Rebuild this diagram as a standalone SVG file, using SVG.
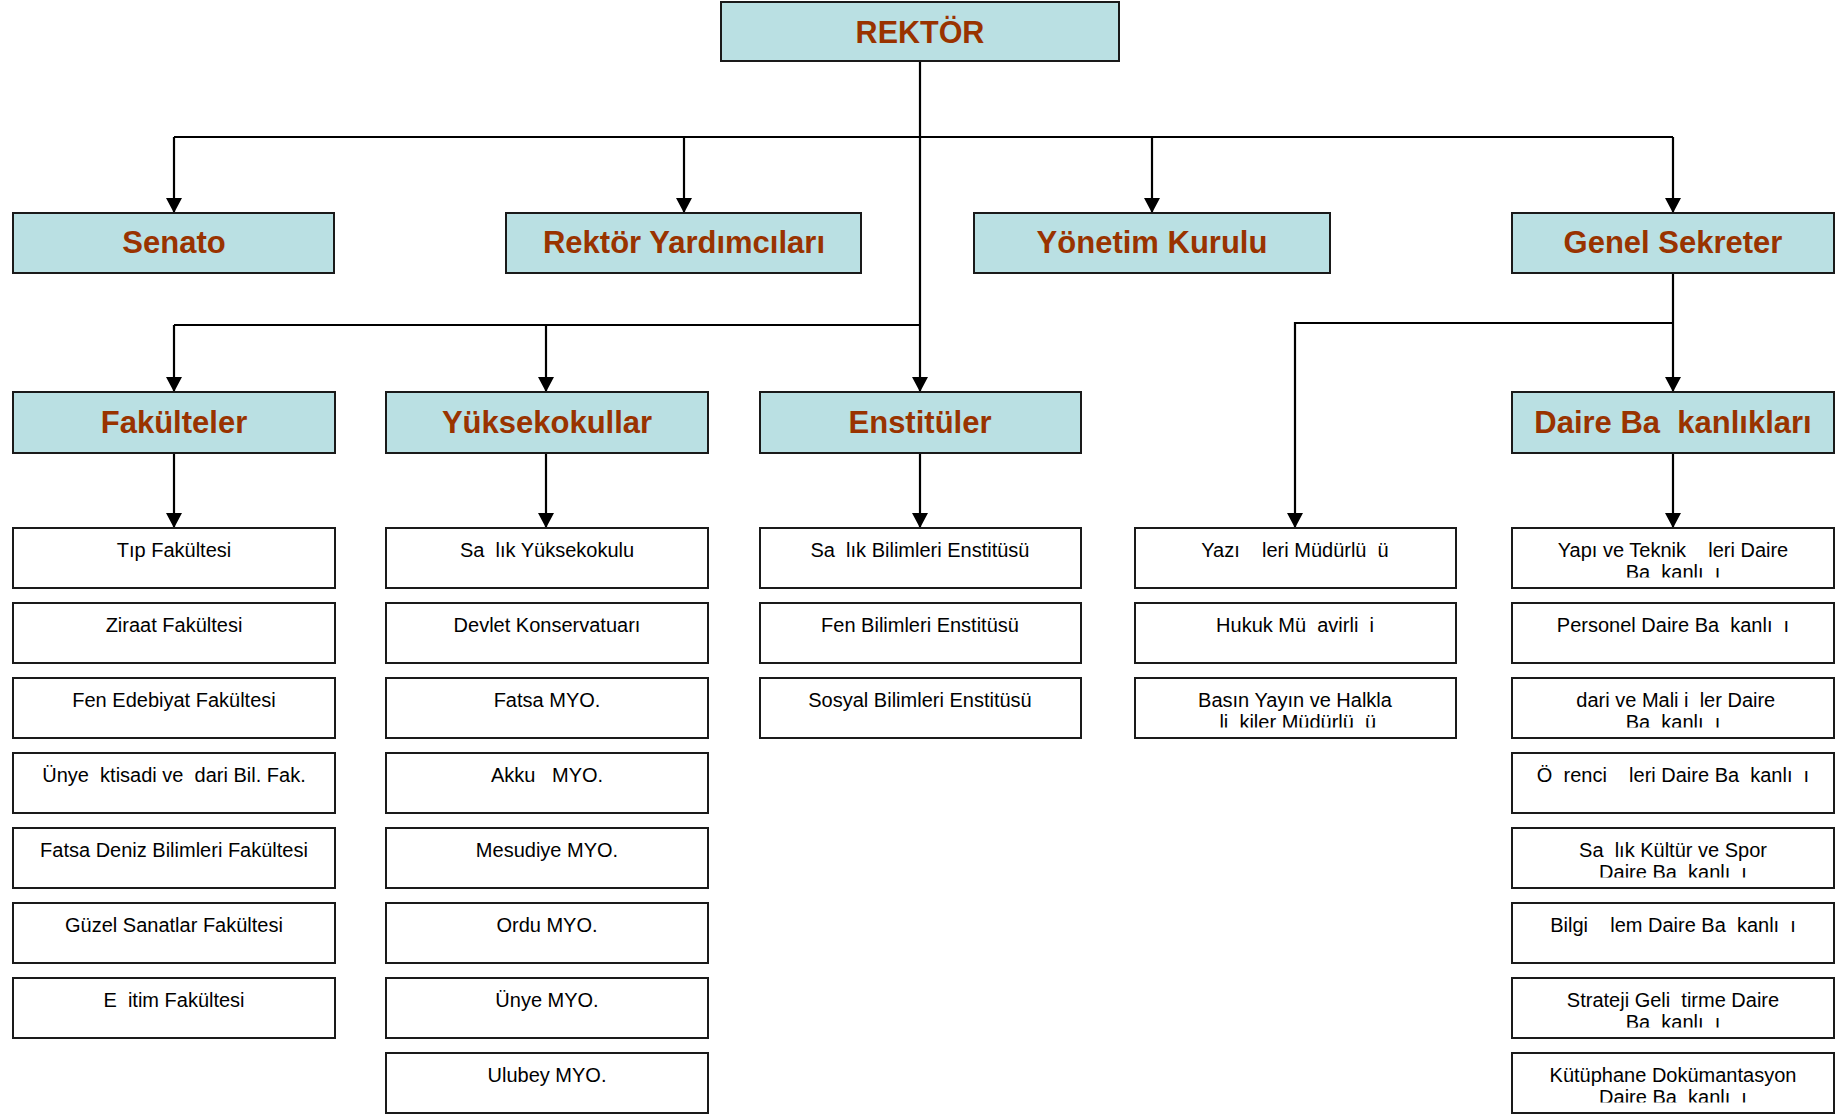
<svg xmlns="http://www.w3.org/2000/svg" width="1844" height="1114" viewBox="0 0 1844 1114">
<style>
.hb{fill:#bae0e3;stroke:#1a1a1a;stroke-width:2}
.bx{fill:#ffffff;stroke:#1a1a1a;stroke-width:2}
.ht{font-family:"Liberation Sans",Arial,sans-serif;font-weight:bold;font-size:31px;fill:#993300;text-anchor:middle;white-space:pre}
.st{font-family:"Liberation Sans",Arial,sans-serif;font-size:20px;fill:#000;text-anchor:middle;white-space:pre}
.cn{fill:none;stroke:#000;stroke-width:2.2}
</style>
<defs>
<marker id="ar" markerUnits="userSpaceOnUse" markerWidth="16" markerHeight="16" refX="15" refY="8" orient="auto">
<path d="M0,0 L15,8 L0,16 z" fill="#000"/>
</marker>
<clipPath id="cl"><rect x="0" y="0" width="322" height="49.5"/></clipPath>
</defs>
<g id="connectors">
<path class="cn" d="M920,61 V392" marker-end="url(#ar)"/>
<path class="cn" d="M174,137 H1673"/>
<path class="cn" d="M174,137 V213" marker-end="url(#ar)"/>
<path class="cn" d="M684,137 V213" marker-end="url(#ar)"/>
<path class="cn" d="M1152,137 V213" marker-end="url(#ar)"/>
<path class="cn" d="M1673,137 V213" marker-end="url(#ar)"/>
<path class="cn" d="M174,325 H920"/>
<path class="cn" d="M174,325 V392" marker-end="url(#ar)"/>
<path class="cn" d="M546,325 V392" marker-end="url(#ar)"/>
<path class="cn" d="M1673,273 V392" marker-end="url(#ar)"/>
<path class="cn" d="M1673,323 H1295 V528" marker-end="url(#ar)"/>
<path class="cn" d="M174,453 V528" marker-end="url(#ar)"/>
<path class="cn" d="M546,453 V528" marker-end="url(#ar)"/>
<path class="cn" d="M920,453 V528" marker-end="url(#ar)"/>
<path class="cn" d="M1673,453 V528" marker-end="url(#ar)"/>
</g>
<g id="rektor"><rect class="hb" x="721" y="2" width="398" height="59"/><text class="ht" x="920" y="43" style="font-size:30.5px">REKTÖR</text></g>
<g id="senato"><rect class="hb" x="13" y="213" width="321" height="60"/><text class="ht" x="174" y="253">Senato</text></g>
<g id="rektor-yardimcilari"><rect class="hb" x="506" y="213" width="355" height="60"/><text class="ht" x="684" y="253">Rektör Yardımcıları</text></g>
<g id="yonetim-kurulu"><rect class="hb" x="974" y="213" width="356" height="60"/><text class="ht" x="1152" y="253">Yönetim Kurulu</text></g>
<g id="genel-sekreter"><rect class="hb" x="1512" y="213" width="322" height="60"/><text class="ht" x="1673" y="253">Genel Sekreter</text></g>
<g id="fakulteler"><rect class="hb" x="13" y="392" width="322" height="61"/><text class="ht" x="174" y="433">Fakülteler</text></g>
<g id="yuksekokullar"><rect class="hb" x="386" y="392" width="322" height="61"/><text class="ht" x="547" y="433">Yüksekokullar</text></g>
<g id="enstituler"><rect class="hb" x="760" y="392" width="321" height="61"/><text class="ht" x="920" y="433">Enstitüler</text></g>
<g id="daire-baskanliklari"><rect class="hb" x="1512" y="392" width="322" height="61"/><text class="ht" x="1673" y="433">Daire Ba  kanlıkları</text></g>

<g id="f1" transform="translate(13,528)"><rect class="bx" width="322" height="60"/><text class="st" x="161" y="29">Tıp Fakültesi</text></g>
<g id="f2" transform="translate(13,603)"><rect class="bx" width="322" height="60"/><text class="st" x="161" y="29">Ziraat Fakültesi</text></g>
<g id="f3" transform="translate(13,678)"><rect class="bx" width="322" height="60"/><text class="st" x="161" y="29">Fen Edebiyat Fakültesi</text></g>
<g id="f4" transform="translate(13,753)"><rect class="bx" width="322" height="60"/><text class="st" x="161" y="29">Ünye  ktisadi ve  dari Bil. Fak.</text></g>
<g id="f5" transform="translate(13,828)"><rect class="bx" width="322" height="60"/><text class="st" x="161" y="29">Fatsa Deniz Bilimleri Fakültesi</text></g>
<g id="f6" transform="translate(13,903)"><rect class="bx" width="322" height="60"/><text class="st" x="161" y="29">Güzel Sanatlar Fakültesi</text></g>
<g id="f7" transform="translate(13,978)"><rect class="bx" width="322" height="60"/><text class="st" x="161" y="29">E  itim Fakültesi</text></g>

<g id="y1" transform="translate(386,528)"><rect class="bx" width="322" height="60"/><text class="st" x="161" y="29">Sa  lık Yüksekokulu</text></g>
<g id="y2" transform="translate(386,603)"><rect class="bx" width="322" height="60"/><text class="st" x="161" y="29">Devlet Konservatuarı</text></g>
<g id="y3" transform="translate(386,678)"><rect class="bx" width="322" height="60"/><text class="st" x="161" y="29">Fatsa MYO.</text></g>
<g id="y4" transform="translate(386,753)"><rect class="bx" width="322" height="60"/><text class="st" x="161" y="29">Akku   MYO.</text></g>
<g id="y5" transform="translate(386,828)"><rect class="bx" width="322" height="60"/><text class="st" x="161" y="29">Mesudiye MYO.</text></g>
<g id="y6" transform="translate(386,903)"><rect class="bx" width="322" height="60"/><text class="st" x="161" y="29">Ordu MYO.</text></g>
<g id="y7" transform="translate(386,978)"><rect class="bx" width="322" height="60"/><text class="st" x="161" y="29">Ünye MYO.</text></g>
<g id="y8" transform="translate(386,1053)"><rect class="bx" width="322" height="60"/><text class="st" x="161" y="29">Ulubey MYO.</text></g>

<g id="e1" transform="translate(760,528)"><rect class="bx" width="321" height="60"/><text class="st" x="160" y="29">Sa  lık Bilimleri Enstitüsü</text></g>
<g id="e2" transform="translate(760,603)"><rect class="bx" width="321" height="60"/><text class="st" x="160" y="29">Fen Bilimleri Enstitüsü</text></g>
<g id="e3" transform="translate(760,678)"><rect class="bx" width="321" height="60"/><text class="st" x="160" y="29">Sosyal Bilimleri Enstitüsü</text></g>

<g id="g1" transform="translate(1135,528)"><rect class="bx" width="321" height="60"/><text class="st" x="160" y="29">Yazı    leri Müdürlü  ü</text></g>
<g id="g2" transform="translate(1135,603)"><rect class="bx" width="321" height="60"/><text class="st" x="160" y="29">Hukuk Mü  avirli  i</text></g>
<g id="g3" transform="translate(1135,678)"><rect class="bx" width="321" height="60"/><text class="st" x="160" y="29" clip-path="url(#cl)">Basın Yayın ve Halkla<tspan x="160" dy="22"> li  kiler Müdürlü  ü</tspan></text></g>

<g id="d1" transform="translate(1512,528)"><rect class="bx" width="322" height="60"/><text class="st" x="161" y="29" clip-path="url(#cl)">Yapı ve Teknik    leri Daire<tspan x="161" dy="22">Ba  kanlı  ı</tspan></text></g>
<g id="d2" transform="translate(1512,603)"><rect class="bx" width="322" height="60"/><text class="st" x="161" y="29">Personel Daire Ba  kanlı  ı</text></g>
<g id="d3" transform="translate(1512,678)"><rect class="bx" width="322" height="60"/><text class="st" x="161" y="29" clip-path="url(#cl)"> dari ve Mali i  ler Daire<tspan x="161" dy="22">Ba  kanlı  ı</tspan></text></g>
<g id="d4" transform="translate(1512,753)"><rect class="bx" width="322" height="60"/><text class="st" x="161" y="29">Ö  renci    leri Daire Ba  kanlı  ı</text></g>
<g id="d5" transform="translate(1512,828)"><rect class="bx" width="322" height="60"/><text class="st" x="161" y="29" clip-path="url(#cl)">Sa  lık Kültür ve Spor<tspan x="161" dy="22">Daire Ba  kanlı  ı</tspan></text></g>
<g id="d6" transform="translate(1512,903)"><rect class="bx" width="322" height="60"/><text class="st" x="161" y="29">Bilgi    lem Daire Ba  kanlı  ı</text></g>
<g id="d7" transform="translate(1512,978)"><rect class="bx" width="322" height="60"/><text class="st" x="161" y="29" clip-path="url(#cl)">Strateji Geli  tirme Daire<tspan x="161" dy="22">Ba  kanlı  ı</tspan></text></g>
<g id="d8" transform="translate(1512,1053)"><rect class="bx" width="322" height="60"/><text class="st" x="161" y="29" clip-path="url(#cl)">Kütüphane Dokümantasyon<tspan x="161" dy="22">Daire Ba  kanlı  ı</tspan></text></g>
</svg>
